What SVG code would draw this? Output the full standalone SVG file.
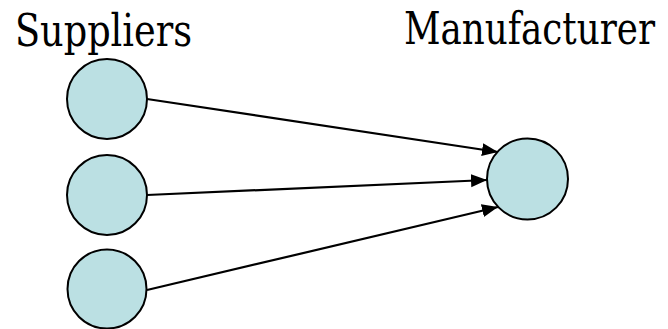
<svg xmlns="http://www.w3.org/2000/svg" width="668" height="329" viewBox="0 0 668 329">
<style>
.lbl{font-family:'DejaVu Serif',serif;font-size:45px;fill:#000}
.node{fill:#bbe0e3;stroke:#000;stroke-width:2}
.edge{stroke:#000;stroke-width:2.2;fill:none;marker-end:url(#ah)}
</style>
<defs>
<marker id="ah" markerUnits="userSpaceOnUse" markerWidth="17" markerHeight="14" refX="16" refY="7" orient="auto">
<path d="M0,0.5 L16,7 L0,13.5 Z" fill="#000"/>
</marker>
</defs>
<text class="lbl" x="15" y="46" textLength="177" lengthAdjust="spacingAndGlyphs">Suppliers</text>
<text class="lbl" x="404" y="44" textLength="251" lengthAdjust="spacingAndGlyphs">Manufacturer</text>
<g id="connectors">
<line class="edge" x1="147" y1="99" x2="498" y2="152"/>
<line class="edge" x1="147" y1="195" x2="487" y2="180"/>
<line class="edge" x1="147" y1="290" x2="498" y2="207"/>
</g>
<g id="supplier1"><circle class="node" cx="107" cy="99" r="40"/></g>
<g id="supplier2"><circle class="node" cx="107" cy="195" r="40"/></g>
<g id="supplier3"><circle class="node" cx="107" cy="289" r="39.5"/></g>
<g id="manufacturer"><circle class="node" cx="527.5" cy="179" r="40.5"/></g>
</svg>
